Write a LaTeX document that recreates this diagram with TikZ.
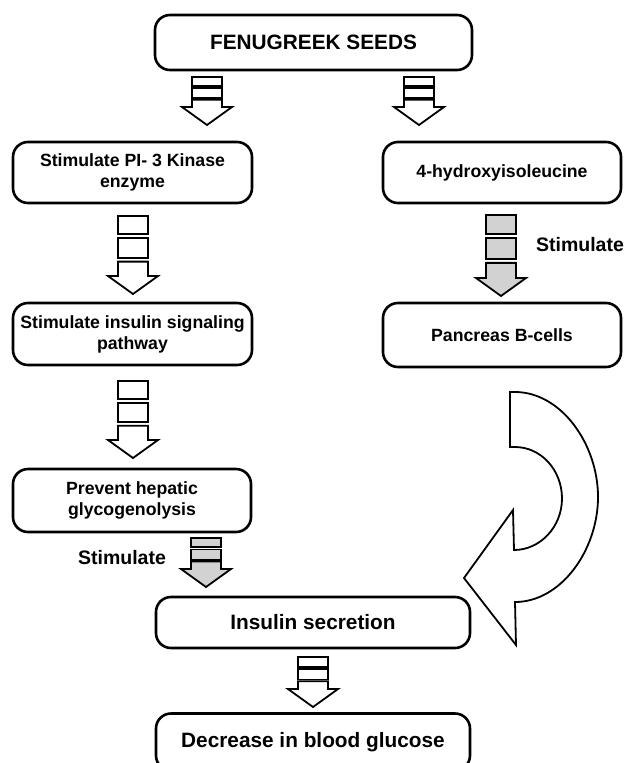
\documentclass[tikz,border=0pt]{standalone}
\usepackage{fontspec}
\setmainfont{Liberation Sans}
\definecolor{stip}{HTML}{D2D2D2}
\newcommand\blockarr[4]{% #1 centre x, #2 top y, #3 tip y, #4 fill
  \pgfmathsetmacro\BLb{#3-#2-18}%
  \pgfmathsetmacro\BLa{#2+0.3*\BLb}%
  \pgfmathsetmacro\BLbb{#2+0.37*\BLb}%
  \pgfmathsetmacro\BLc{#2+0.7*\BLb}%
  \pgfmathsetmacro\BLd{#2+0.76*\BLb}%
  \pgfmathsetmacro\BLe{#3-18}%
  \draw[barr,fill=#4] (#1-15,#2) rectangle (#1+15,\BLa);
  \draw[barr,fill=#4] (#1-15,\BLbb) rectangle (#1+15,\BLc);
  \draw[barr,fill=#4] (#1-15,\BLd) -- (#1-15,\BLe) -- (#1-25,\BLe) -- (#1,#3)
     -- (#1+25,\BLe) -- (#1+15,\BLe) -- (#1+15,\BLd) -- cycle;
}
\begin{document}
\begin{tikzpicture}[x=1pt,y=-1pt,
  box/.style={draw,line width=2.6pt,rounded corners=15pt,align=center,
    font=\bfseries\fontsize{17.7}{21}\selectfont,inner sep=0pt,fill=white},
  bigbox/.style={box,font=\bfseries\fontsize{20.8}{25}\selectfont},
  barr/.style={draw,line width=1.8pt,line join=miter},
  lbl/.style={font=\bfseries\fontsize{19.5}{23}\selectfont},
  curv/.style={draw,line width=1.8pt,line join=miter,fill=white}]
\clip (0,0) rectangle (631,763);
\useasboundingbox (0,0) rectangle (631,763);

% boxes
\node[bigbox,minimum width=317pt,minimum height=55pt] (seeds) at (313.5,42.5) {FENUGREEK SEEDS};
\node[box,minimum width=239pt,minimum height=61pt] (pi3k) at (132.5,172.5) {Stimulate PI- 3 Kinase\\enzyme};
\node[box,minimum width=239pt,minimum height=62pt] (signal) at (132.5,334) {Stimulate insulin signaling\\pathway};
\node[box,minimum width=238pt,minimum height=63pt] (hepatic) at (132,500.5) {Prevent hepatic\\glycogenolysis};
\node[box,minimum width=238pt,minimum height=61pt] (hydroxy) at (502,172.5) {4-hydroxyisoleucine};
\node[box,minimum width=238pt,minimum height=64pt] (pancreas) at (502,335) {Pancreas B-cells};
\node[bigbox,minimum width=314pt,minimum height=51pt] (insulin) at (313,622.5) {Insulin secretion};
\node[bigbox,minimum width=314pt,minimum height=57pt] (decrease) at (313,742) {Decrease in blood glucose};

% labels
\node[lbl] (stimR) at (580,245) {Stimulate};
\node[lbl] (stimL) at (122,558) {Stimulate};

% block arrows
\blockarr{207}{77}{125}{white}
\blockarr{419}{77}{125}{white}
\blockarr{133}{216}{294}{white}
\blockarr{501}{215}{296}{stip}
\blockarr{133}{381}{458}{white}
\blockarr{206}{538}{587}{stip}
\blockarr{313}{657}{707}{white}

% curved arrow from Pancreas B-cells to Insulin secretion
\path[curv] (510,392) -- (515,392)
  .. controls (561,392) and (598,444) .. (598,497)
  .. controls (598,550) and (561,602) .. (515,602)
  -- (516,645) -- (464,578) -- (513,510) -- (514,550)
  .. controls (540,550) and (562,527) .. (562,498.5)
  .. controls (562,470) and (541,447) .. (515,447)
  -- (510,447) -- cycle;
\end{tikzpicture}
\end{document}
